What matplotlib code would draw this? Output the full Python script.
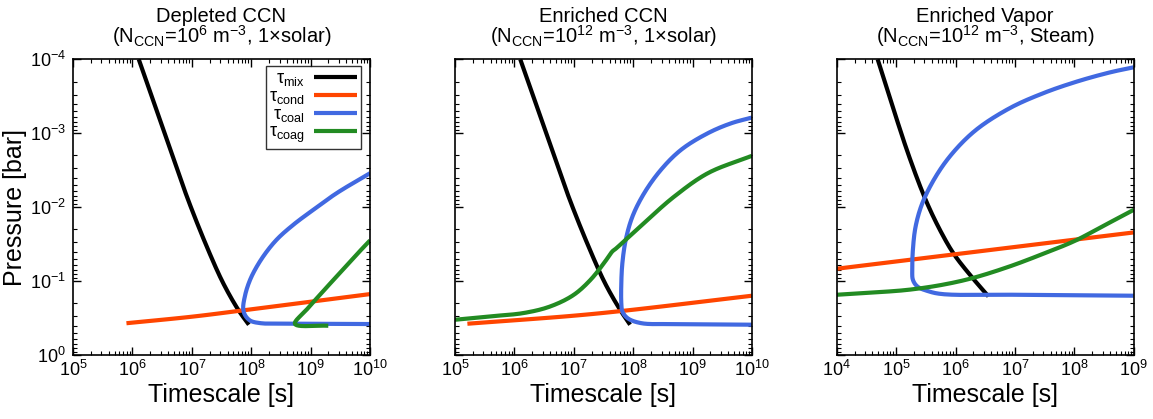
import matplotlib
matplotlib.use("Agg")
import matplotlib.pyplot as plt
from matplotlib.ticker import LogLocator
import numpy as np

plt.rcParams['font.family'] = ['Liberation Sans', 'DejaVu Sans']
plt.rcParams['mathtext.fontset'] = 'custom'
plt.rcParams['mathtext.rm'] = 'Liberation Sans'
plt.rcParams['mathtext.it'] = 'Liberation Sans:italic'
plt.rcParams['mathtext.default'] = 'regular'

# ---- data: (log10 timescale [s], log10 pressure [bar]) ----
titles = ["Depleted CCN\n(N$_{CCN}$=10$^{6}$ m$^{-3}$, 1×solar)",
          "Enriched CCN\n(N$_{CCN}$=10$^{12}$ m$^{-3}$, 1×solar)",
          "Enriched Vapor\n(N$_{CCN}$=10$^{12}$ m$^{-3}$, Steam)"]
xlims = [(1e5, 1e10), (1e5, 1e10), (1e4, 1e9)]

# Panel 1
p1_mix_t = [6.107, 6.601, 6.938, 7.275, 7.528, 7.781, 7.961]
p1_mix_p = [-4.0, -2.865, -2.099, -1.423, -0.973, -0.613, -0.41]
p1_cond_t = [5.90, 7.02, 7.92, 10.0]
p1_cond_p = [-0.43, -0.52, -0.61, -0.824]
p1_coal_t = [10.0, 8.708, 8.146, 7.978, 7.893, 7.865, 7.893, 7.949, 8.034, 8.202, 8.427, 8.708, 9.045, 9.438, 10.0]
p1_coal_p = [-0.419, -0.423, -0.432, -0.468, -0.545, -0.635, -0.793, -0.950, -1.108, -1.333, -1.559, -1.761, -1.964, -2.189, -2.459]
p1_coag_t = [9.298, 8.736, 8.933, 9.157, 9.438, 9.719, 10.0]
p1_coag_p = [-0.396, -0.423, -0.613, -0.815, -1.063, -1.311, -1.55]

# Panel 2
p2_mix_t = [6.099, 6.595, 6.933, 7.272, 7.525, 7.779, 7.948]
p2_mix_p = [-4.0, -2.865, -2.099, -1.423, -0.973, -0.613, -0.41]
p2_cond_t = [5.209, 7.001, 7.903, 10.0]
p2_cond_p = [-0.423, -0.532, -0.604, -0.802]
p2_coal_t = [10.0, 8.692, 8.128, 7.903, 7.818, 7.80, 7.80, 7.818, 7.875, 7.988, 8.185, 8.467, 8.805, 9.256, 9.651, 10.0]
p2_coal_p = [-0.41, -0.419, -0.432, -0.50, -0.59, -0.703, -0.973, -1.243, -1.559, -1.874, -2.189, -2.505, -2.775, -3.0, -3.135, -3.212]
p2_coag_t = [5.0, 5.592, 6.156, 6.607, 7.001, 7.283, 7.508, 7.649, 7.706, 7.903, 8.241, 8.692, 9.256, 10.0]
p2_coag_p = [-0.477, -0.523, -0.568, -0.658, -0.815, -1.018, -1.243, -1.401, -1.437, -1.581, -1.829, -2.144, -2.459, -2.694]

# Panel 3
p3_mix_t = [4.689, 4.932, 5.215, 5.497, 5.751, 5.977, 6.288, 6.554]
p3_mix_p = [-4.0, -3.383, -2.694, -2.099, -1.671, -1.36, -1.041, -0.793]
p3_cond_t = [4.0, 9.0]
p3_cond_p = [-1.167, -1.658]
p3_coal_t = [9.0, 7.192, 5.78, 5.554, 5.356, 5.282, 5.271, 5.282, 5.328, 5.441, 5.667, 5.949, 6.345, 6.91, 7.475, 8.04, 8.605, 9.0]
p3_coal_p = [-0.802, -0.815, -0.824, -0.86, -0.928, -1.018, -1.153, -1.423, -1.739, -2.054, -2.414, -2.73, -3.045, -3.338, -3.541, -3.698, -3.824, -3.892]
p3_coag_t = [4.0, 4.65, 5.215, 5.78, 6.288, 6.91, 7.475, 8.011, 8.492, 9.0]
p3_coag_p = [-0.815, -0.847, -0.883, -0.95, -1.041, -1.198, -1.369, -1.545, -1.748, -1.964]

panels = [
    [(p1_mix_t, p1_mix_p), (p1_cond_t, p1_cond_p), (p1_coal_t, p1_coal_p), (p1_coag_t, p1_coag_p)],
    [(p2_mix_t, p2_mix_p), (p2_cond_t, p2_cond_p), (p2_coal_t, p2_coal_p), (p2_coag_t, p2_coag_p)],
    [(p3_mix_t, p3_mix_p), (p3_cond_t, p3_cond_p), (p3_coal_t, p3_coal_p), (p3_coag_t, p3_coag_p)],
]
labels = [r"$\tau_{mix}$", r"$\tau_{cond}$", r"$\tau_{coal}$", r"$\tau_{coag}$"]
colors = ["black", "#ff4500", "#4169e1", "#228b22"]
widths = [3.0, 3.0, 3.0, 3.0]


def smooth(t, p, n=25):
    # centripetal Catmull-Rom through the read points (avoids overshoot)
    t = np.asarray(t, float); p = np.asarray(p, float)
    if len(t) < 3:
        return t, p
    P = np.column_stack([t, p])
    P = np.vstack([P[0] - (P[1] - P[0]), P, P[-1] + (P[-1] - P[-2])])
    out = []
    for i in range(1, len(P) - 2):
        p0, p1, p2, p3 = P[i - 1], P[i], P[i + 1], P[i + 2]
        t0 = 0.0
        t1 = t0 + np.linalg.norm(p1 - p0) ** 0.5
        t2 = t1 + np.linalg.norm(p2 - p1) ** 0.5
        t3 = t2 + np.linalg.norm(p3 - p2) ** 0.5
        for u in np.linspace(t1, t2, n, endpoint=False):
            a1 = (t1 - u) / (t1 - t0) * p0 + (u - t0) / (t1 - t0) * p1
            a2 = (t2 - u) / (t2 - t1) * p1 + (u - t1) / (t2 - t1) * p2
            a3 = (t3 - u) / (t3 - t2) * p2 + (u - t2) / (t3 - t2) * p3
            b1 = (t2 - u) / (t2 - t0) * a1 + (u - t0) / (t2 - t0) * a2
            b2 = (t3 - u) / (t3 - t1) * a2 + (u - t1) / (t3 - t1) * a3
            out.append((t2 - u) / (t2 - t1) * b1 + (u - t1) / (t2 - t1) * b2)
    out.append(P[-2])
    out = np.array(out)
    return out[:, 0], out[:, 1]


fig = plt.figure(figsize=(11.53, 4.19), dpi=100)
lefts = [0.0633, 0.3946, 0.7257]
for k in range(3):
    ax = fig.add_axes([lefts[k], 0.1527, 0.2576, 0.7058])
    for j, (t, p) in enumerate(panels[k]):
        st, sp = smooth(t, p)
        ax.plot(10 ** st, 10 ** sp, color=colors[j], lw=widths[j], label=labels[j],
                solid_capstyle='butt', solid_joinstyle='round')
    ax.set_xscale('log')
    ax.set_yscale('log')
    ax.set_xlim(*xlims[k])
    ax.set_ylim(1.0, 1e-4)
    ax.xaxis.set_major_locator(LogLocator(base=10, numticks=20))
    ax.xaxis.set_minor_locator(LogLocator(base=10, subs=np.arange(2, 10), numticks=20))
    ax.yaxis.set_major_locator(LogLocator(base=10, numticks=20))
    ax.yaxis.set_minor_locator(LogLocator(base=10, subs=np.arange(2, 10), numticks=20))
    ax.tick_params(which='both', direction='in', top=True, right=True, labelsize=13)
    ax.tick_params(which='major', length=6, width=1)
    ax.tick_params(which='minor', length=3, width=0.8)
    ax.tick_params(axis='y', pad=5)
    for s in ax.spines.values():
        s.set_linewidth(1.2)
    ax.set_xlabel("Timescale [s]", fontsize=18, labelpad=2)
    ax.set_title(titles[k], fontsize=14.5, linespacing=0.82, pad=12)
    if k == 0:
        ax.set_ylabel("Pressure [bar]", fontsize=18, labelpad=2)
        leg = ax.legend(loc='upper right', markerfirst=False, fontsize=13, frameon=True,
                        fancybox=False, edgecolor='black', handlelength=2.4,
                        borderpad=0.2, labelspacing=0.0, handletextpad=0.5,
                        borderaxespad=0.0, bbox_to_anchor=(0.97, 0.976))
        leg.get_frame().set_linewidth(1.0)
    else:
        ax.set_yticklabels([])

fig.savefig("out.png", dpi=100)
